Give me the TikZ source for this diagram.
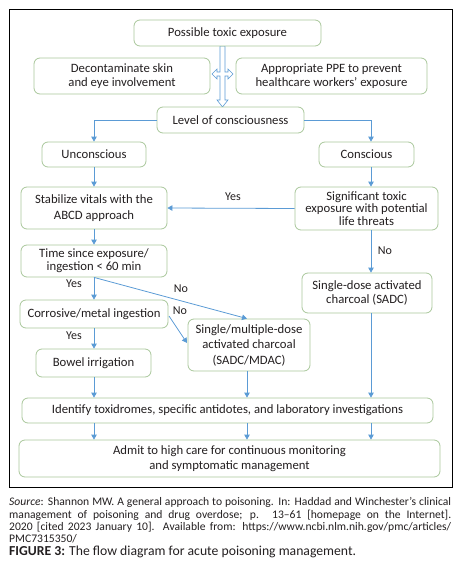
\documentclass[tikz,border=0pt]{standalone}
\usepackage{fontspec}
\setmainfont{Carlito}
\usetikzlibrary{arrows.meta,calc}
\definecolor{arrblue}{HTML}{5B9BD5}
\definecolor{boxgreen}{HTML}{A9C79B}
\definecolor{txt}{HTML}{231F20}
\begin{document}
\begin{tikzpicture}[x=1pt,y=-1pt,
  box/.style={draw=boxgreen,line width=0.8pt,rounded corners=6pt,fill=white,
    align=center,inner sep=0pt,text=txt,font=\fontsize{12.7}{14.5}\selectfont},
  arr/.style={draw=arrblue,line width=0.8pt,-{Triangle[width=5.5pt,length=5pt]}},
  lbl/.style={text=txt,font=\fontsize{12}{12}\selectfont,inner sep=0pt}]
\useasboundingbox (0,0) rectangle (461,573);
\draw[line width=1pt,black] (9,9) rectangle (452,487);
\coordinate (c1) at (94,0);
\coordinate (c2) at (247,0);
\coordinate (c3) at (371,0);
% hollow arrows
\draw[arrblue,line width=0.6pt,fill=white] (220,46) -- (225,46) -- (225,72) -- (228,72) -- (228,69) -- (233,74) -- (228,79) -- (228,76) -- (225,76) -- (225,100) -- (228,100) -- (222.5,107) -- (217,100) -- (220,100) -- (220,76) -- (217,76) -- (217,79) -- (212,74) -- (217,69) -- (217,72) -- (220,72) -- cycle;
\node[box,minimum width=187pt,minimum height=26pt] (top) at (227.5,33) {Possible toxic exposure};
\node[box,minimum width=176pt,minimum height=36pt] (decon) at (122,76) {Decontaminate skin\\and eye involvement};
\node[box,minimum width=191pt,minimum height=36pt] (ppe) at (331.5,76) {Appropriate PPE to prevent\\healthcare workers' exposure};
\node[box,minimum width=147pt,minimum height=26pt] (level) at (230.5,120) {Level of consciousness};
\node[box,minimum width=104pt,minimum height=25pt] (uncon) at (94,154.5) {Unconscious};
\node[box,minimum width=95pt,minimum height=25pt] (con) at (366.5,154.5) {Conscious};
\node[box,minimum width=146pt,minimum height=42pt,font=\fontsize{12.7}{15.5}\selectfont] (stab) at (94,208) {Stabilize vitals with the\\ABCD approach};
\node[box,minimum width=143pt,minimum height=43pt,font=\fontsize{12.7}{12.8}\selectfont] (sig) at (366.5,208.5) {Significant toxic\\exposure with potential\\life threats};
\node[box,minimum width=146pt,minimum height=32pt,font=\fontsize{12.7}{13}\selectfont] (time) at (94,261) {Time since exposure/\\ingestion < 60 min};
\node[box,minimum width=130pt,minimum height=40pt] (sdac) at (367,293) {Single-dose activated\\charcoal (SADC)};
\node[box,minimum width=148pt,minimum height=28pt] (corr) at (94,314) {Corrosive/metal ingestion};
\node[box,minimum width=115pt,minimum height=28pt] (bowel) at (93.5,363) {Bowel irrigation};
\node[box,minimum width=122pt,minimum height=52pt,font=\fontsize{12.7}{15.5}\selectfont] (smdac) at (249,345) {Single/multiple-dose\\activated charcoal\\(SADC/MDAC)};
\node[box,minimum width=411pt,minimum height=25pt] (ident) at (227.5,410.5) {Identify toxidromes, specific antidotes, and laboratory investigations};
\node[box,minimum width=421pt,minimum height=37pt,font=\fontsize{12.7}{15}\selectfont] (admit) at (229.5,458.5) {Admit to high care for continuous monitoring\\and symptomatic management};
% connectors
\draw[arr] (level.west) -| (uncon.north -| c1);
\draw[arr] (level.east) -| (con.north -| c3);
\draw[arr] (uncon.south -| c1) -- (stab.north -| c1);
\draw[arr] (con.south -| c3) -- (sig.north -| c3);
\draw[arr] (sig.west) -- (stab.east);
\node[lbl] (yes1) at (233,197) {Yes};
\draw[arr] (stab.south -| c1) -- (time.north -| c1);
\draw[arr] (sig.south -| c3) -- (sdac.north -| c3);
\node[lbl] (no1) at (385,251) {No};
\draw[arr] (time.south -| c1) -- (corr.north -| c1);
\node[lbl] (yes2) at (74,284) {Yes};
\draw[arr] (time.south -| c1) -- (smdac.north -| c2);
\node[lbl] (no2) at (181,289) {No};
\coordinate (cr) at (169,316);
\coordinate (sl) at (187,343);
\draw[arr] (cr) -- (sl);
\node[lbl] (no3) at (180,311) {No};
\draw[arr] (corr.south -| c1) -- (bowel.north -| c1);
\node[lbl] (yes3) at (74,336) {Yes};
\draw[arr] (bowel.south -| c1) -- (ident.north -| c1);
\draw[arr] (smdac.south -| c2) -- (ident.north -| c2);
\draw[arr] (sdac.south -| c3) -- (ident.north -| c3);
\draw[arr] (ident.south -| c1) -- (admit.north -| c1);
\draw[arr] (ident.south -| c2) -- (admit.north -| c2);
\draw[arr] (ident.south -| c3) -- (admit.north -| c3);
% caption
\node[anchor=north west,inner sep=0pt,text width=442pt,align=justify,text=txt,
  font=\fontsize{11.6}{12.3}\selectfont] (src) at (9,497.5)
  {\textit{Source}: Shannon MW. A general approach to poisoning. In: Haddad and Winchester’s clinical\linebreak
  management of poisoning and drug overdose; p. 13–61 [homepage on the Internet].\linebreak
  2020 [cited 2023 January 10]. Available from: https://www.ncbi.nlm.nih.gov/pmc/articles/\linebreak
  PMC7315350/};
\node[anchor=west,inner sep=0pt,text=txt,font=\fontsize{13.7}{14}\selectfont] (fig) at (9,552)
  {\textbf{FIGURE 3:} The flow diagram for acute poisoning management.};
\end{tikzpicture}
\end{document}
